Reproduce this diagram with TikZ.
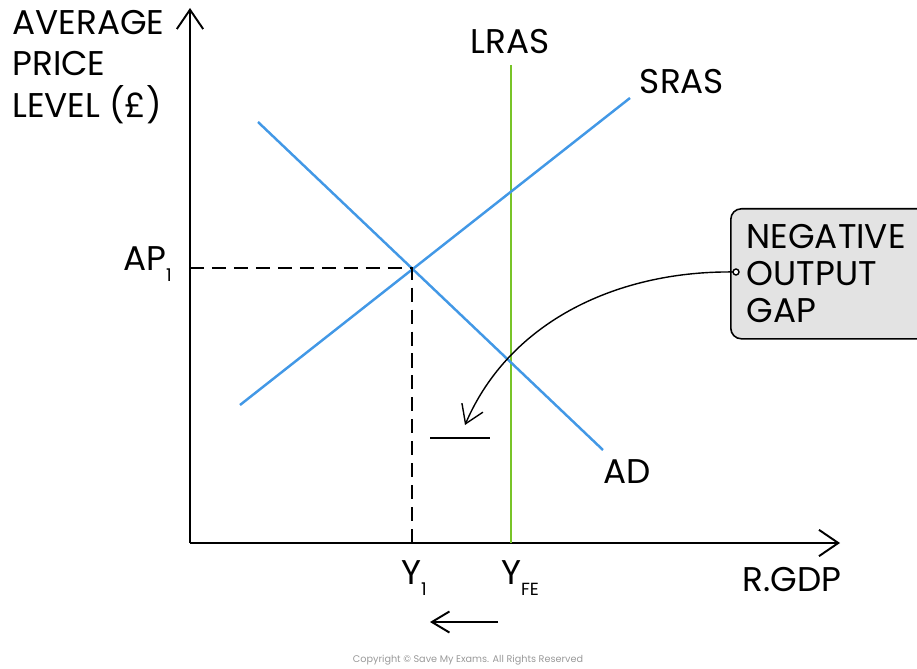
\documentclass[tikz,border=0pt]{standalone}
\usepackage{fontspec}
\setmainfont{Poppins}
\usetikzlibrary{arrows.meta}
\definecolor{curveblue}{RGB}{66,152,230}
\definecolor{lrasgreen}{RGB}{120,196,40}
\newcommand{\lowidx}[1]{\raisebox{-0.6ex}{\fontsize{10}{10}\selectfont #1}}

\begin{document}
\begin{tikzpicture}[x=0.02cm,y=-0.02cm,
  lbl/.style={font=\fontsize{19.5}{23.5}\selectfont},
  axis/.style={line width=1.1pt,-{Straight Barb[length=11pt,width=15pt]}},
  curve/.style={line width=1.4pt,curveblue},
  guide/.style={line width=1.1pt,dash pattern=on 8pt off 4.5pt}]
\useasboundingbox (0,0) rectangle (917,669);
% axes
\coordinate (O) at (190,543);
\coordinate (ytop) at (190,8);
\coordinate (xend) at (840,543);
\draw[axis] (O) -- (ytop);
\draw[axis] (O) -- (xend);
\node[lbl,anchor=north west,align=left,inner sep=0pt] (ylab) at (12,10) {AVERAGE\\PRICE\\LEVEL (£)};
\node[lbl] (xlab) at (792,580) {R.GDP};
% curves
\coordinate (lrasbot) at (511,543);
\coordinate (lrastop) at (511,65);
\draw[lrasgreen,line width=1.4pt] (lrasbot) -- (lrastop);
\node[lbl] (lras) at (510,42) {LRAS};
\coordinate (srasa) at (240,405);
\coordinate (srasb) at (630,98);
\draw[curve] (srasa) -- (srasb);
\node[lbl] (sras) at (682,82) {SRAS};
\coordinate (ada) at (258,122);
\coordinate (adb) at (603,450);
\draw[curve] (ada) -- (adb);
\node[lbl] (ad) at (627,472) {AD};
% equilibrium
\coordinate (E1) at (412,268);
\coordinate (ap) at (190,268);
\coordinate (y1) at (412,543);
\draw[guide] (ap) -- (E1) -- (y1);
\node[lbl,anchor=east] (aplab) at (178,264) {AP\lowidx{1}};
\node[lbl] (y1lab) at (414,578) {Y\lowidx{1}};
\node[lbl] (yfelab) at (520,578) {Y\lowidx{FE}};
% output gap
\node[lbl,draw,line width=0.9pt,fill=black!11,rounded corners=6pt,anchor=north west,
  align=left,minimum width=200*0.02cm,minimum height=130*0.02cm,inner xsep=9pt,
  font=\fontsize{19.5}{21}\selectfont] (gap) at (730,208)
  {NEGATIVE\\OUTPUT\\GAP\hspace*{5em}};
\coordinate (gapdot) at (736,272);
\coordinate (gaptip) at (465,425);
\draw[line width=0.8pt,-{Straight Barb[length=10pt,width=13pt]}]
  (gapdot) .. controls (620,270) and (510,320) .. (gaptip);
\draw[line width=0.8pt,fill=white] (gapdot) circle (3);
\coordinate (barl) at (430,438);
\coordinate (barr) at (490,438);
\draw[line width=1.1pt] (barl) -- (barr);
\coordinate (shr) at (498,622);
\coordinate (shl) at (430,622);
\draw[line width=1.1pt,-{Straight Barb[length=10pt,width=12pt]}] (shr) -- (shl);
\node[font=\fontsize{5.5}{6}\selectfont\color{black!40}] (copy) at (468,660)
  {Copyright © Save My Exams. All Rights Reserved};
\end{tikzpicture}
\end{document}
